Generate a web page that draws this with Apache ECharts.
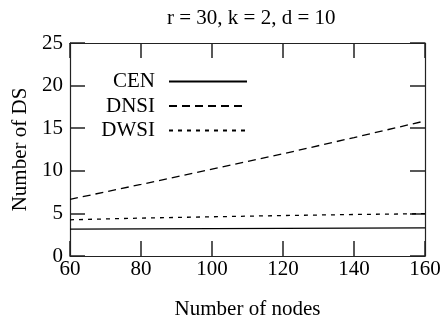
<!DOCTYPE html>
<html><head><meta charset="utf-8">
<script src="https://cdn.jsdelivr.net/npm/echarts@6/dist/echarts.min.js"></script>
<style>html,body{margin:0;padding:0;background:#fff}#c{width:440px;height:323px}</style>
</head><body><div id="c"></div>
<script>
const nodes = [60, 80, 100, 120, 140, 160];
const cen  = [3.15, 3.18, 3.21, 3.24, 3.27, 3.30];
const dnsi = [6.65, 8.4, 10.2, 12.0, 13.9, 15.85];
const dwsi = [4.25, 4.45, 4.6, 4.75, 4.87, 4.97];
const xTicks = [60, 80, 100, 120, 140, 160];
const yTicks = [0, 5, 10, 15, 20, 25];
const titleText = 'r = 30, k = 2, d = 10';

const F = 'Liberation Serif, Times New Roman, serif';
const pair = (xs, ys) => xs.map((x, i) => [x, ys[i]]);
const mkLine = () => ({show: true, onZero: false, lineStyle: {color: '#222', width: 1.2}});
const mkTick = () => ({show: true, inside: true, length: 15, lineStyle: {color: '#222', width: 1.5}});
const chart = echarts.init(document.getElementById('c'), null, {renderer: 'canvas'});
const dash = {CEN: 'solid', DNSI: [8, 5], DWSI: [4, 5]};
const series = [['CEN', cen], ['DNSI', dnsi], ['DWSI', dwsi]].map(([n, v]) => ({
  name: n, type: 'line', data: pair(nodes, v), symbol: 'none', showSymbol: false,
  lineStyle: {color: '#000', width: 1.3, type: dash[n]},
  itemStyle: {color: '#000'}
}));
const legends = ['CEN', 'DNSI', 'DWSI'].map((n, i) => ({
  data: [n], right: 187, top: 66 + i * 24.5, itemWidth: 78, itemHeight: 16, align: 'right',
  itemStyle: {opacity: 0},
  textStyle: {fontFamily: F, fontSize: 21, color: '#000', padding: [0, 9, 0, 0]},
  selectedMode: false
}));
const axisFont = {fontFamily: F, fontSize: 21, color: '#000'};
const hiddenLabel = {show: true, fontSize: 1, color: 'rgba(0,0,0,0)', formatter: () => ''};
chart.setOption({
  animation: false,
  title: {text: titleText, left: 162, top: 3, textStyle: {fontFamily: F, fontSize: 21, fontWeight: 'normal', color: '#000'}},
  legend: legends,
  grid: {left: 70, right: 15, top: 43, bottom: 67, containLabel: false, outerBoundsMode: 'none'},
  xAxis: [{
    type: 'value', min: 60, max: 160, interval: 20, position: 'bottom',
    name: 'Number of nodes', nameLocation: 'middle', nameGap: 43, nameTextStyle: axisFont,
    axisLine: mkLine(), axisTick: mkTick(), splitLine: {show: false},
    axisLabel: Object.assign({margin: 3}, axisFont)
  }, {
    type: 'value', min: 60, max: 160, interval: 20, position: 'top',
    axisLine: mkLine(), axisTick: mkTick(), splitLine: {show: false},
    axisLabel: hiddenLabel
  }],
  yAxis: [{
    type: 'value', min: 0, max: 25, interval: 5, position: 'left',
    name: 'Number of DS', nameLocation: 'middle', nameGap: 37, nameTextStyle: axisFont,
    axisLine: mkLine(), axisTick: mkTick(), splitLine: {show: false},
    axisLabel: Object.assign({margin: 7}, axisFont)
  }, {
    type: 'value', min: 0, max: 25, interval: 5, position: 'right',
    axisLine: mkLine(), axisTick: mkTick(), splitLine: {show: false},
    axisLabel: hiddenLabel
  }],
  series
});
</script></body></html>
